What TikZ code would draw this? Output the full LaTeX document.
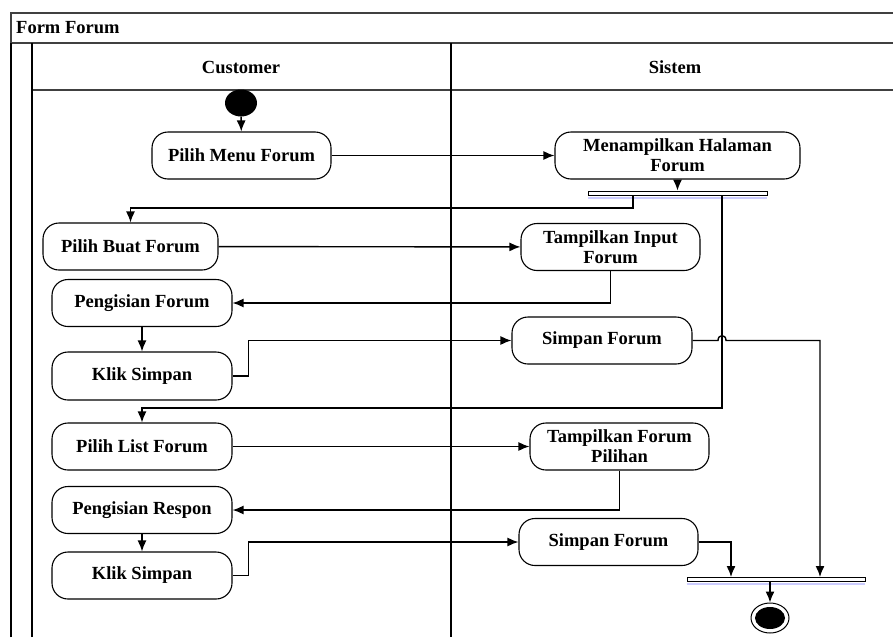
\documentclass[tikz,border=0pt]{standalone}
\usepackage{fontspec}
\setmainfont{Liberation Serif}
\usetikzlibrary{arrows.meta,shapes.geometric}
\tikzset{%
  % Specifications for style of nodes:
    base/.style = {rectangle, rounded corners=16pt, draw=black, line width=1.1pt,
                   minimum width=180pt, minimum height=47pt, inner sep=2pt,
                   align=center, font=\fontsize{18.5}{20}\selectfont\bfseries},
    action/.style = {base},
    label/.style = {font=\fontsize{18.5}{20}\selectfont\bfseries, inner sep=0pt},
    bar/.style = {rectangle, draw=black, fill=white, line width=0.8pt,
                  minimum height=4pt, inner sep=0pt},
    initial/.style = {ellipse, fill=black, inner sep=0pt},
    final/.style = {ellipse, draw=black, line width=1pt, inner sep=0pt},
    flow/.style = {line width=1.4pt, -{Latex[length=11pt,width=9pt]}},
    lane/.style = {draw=black!75, line width=2pt},
    divider/.style = {draw=black, line width=1.3pt},
    shade/.style = {draw=blue!20, line width=2pt}%
}

\begin{document}
\begin{tikzpicture}[x=1pt,y=-1pt]
\useasboundingbox (0,0) rectangle (893,637);

% swimlanes
\draw[lane] (11,637) -- (11,13) -- (900,13);
\draw[lane] (11,43) -- (900,43);
\draw[lane] (32,90) -- (900,90);
\draw[divider] (11,637) -- (11,43);
\draw[divider] (32,637) -- (32,43);
\draw[divider] (451,43) -- (451,637);

\node[label, anchor=west] (title) at (16,28) {Form Forum};
\node[label] (customer) at (241,67) {Customer};
\node[label] (sistem) at (675,67) {Sistem};

% start
\node[initial, minimum width=32pt, minimum height=27pt] (start) at (241,103) {};

% actions
\node[action, minimum width=179pt] (pmf) at (241.5,155.5) {Pilih Menu Forum};
\node[action, minimum width=245pt] (mhf) at (677.5,155.5) {Menampilkan Halaman\\Forum};
\node[bar, minimum width=179pt] (fork) at (677.5,193) {};
\draw[shade] ([yshift=-3pt]fork.south west) -- ([yshift=-3pt]fork.south east);
\coordinate (f1) at (633,195);
\coordinate (f2) at (722,195);

\node[action, minimum width=175pt] (pbf) at (130.5,246.5) {Pilih Buat Forum};
\node[action, minimum width=179pt] (tif) at (610.5,247) {Tampilkan Input\\Forum};
\node[action] (pf) at (142,303) {Pengisian Forum};
\node[action, minimum height=48pt] (ks) at (142,376) {Klik Simpan};
\node[action] (sf) at (602,340.5) {Simpan Forum};

\node[action] (plf) at (142,446.5) {Pilih List Forum};
\node[action, minimum width=179pt] (tfp) at (619.5,446.5) {Tampilkan Forum\\Pilihan};
\node[action] (pr) at (142,510) {Pengisian Respon};
\node[action] (ks2) at (142,575.5) {Klik Simpan};
\node[action, minimum width=179pt] (sf2) at (608.5,542) {Simpan Forum};

\node[bar, minimum width=178pt] (join) at (776,579) {};
\draw[shade] ([yshift=-3pt]join.south west) -- ([yshift=-3pt]join.south east);
\coordinate (j1) at (731,577);
\coordinate (j2) at (820,577);

% end
\node[final, minimum width=38pt, minimum height=30pt] (end) at (770,618) {};
\node[initial, minimum width=30pt, minimum height=22pt] (endin) at (end) {};

% flows
\draw[flow] (start) -- (pmf);
\draw[flow] (pmf) -- (mhf);
\draw[flow] (mhf) -- (fork);
\draw[flow] (f1) -- (633,208) -| (pbf.north);
\draw[flow] (f2) -- (722,408) -| (plf.north);
\draw[flow] (pbf) -- (tif);
\draw[flow] (tif.south) |- (pf.east);
\draw[flow] (pf) -- (ks);
\draw[flow] (ks.east) -- ++(16,0) |- (sf.west);
\draw[flow] (sf.east) -- (718,340.5) .. controls (718,334) and (726,334) .. (726,340.5) -| (j2);
\draw[flow] (plf) -- (tfp);
\draw[flow] (tfp.south) |- (pr.east);
\draw[flow] (pr) -- (ks2);
\draw[flow] (ks2.east) -- ++(16,0) |- (sf2.west);
\draw[flow] (sf2.east) -| (j1);
\draw[flow] (join.south -| end.north) -- (end.north);

\end{tikzpicture}
\end{document}
